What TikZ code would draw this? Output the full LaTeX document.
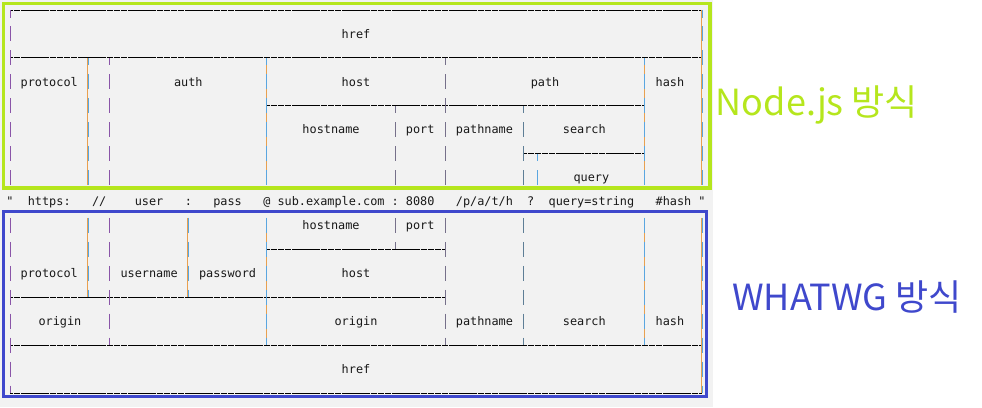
\documentclass[tikz,border=0pt]{standalone}
\usepackage{fontspec}
\usepackage{tikz}
\newfontfamily\monofont{DejaVu Sans Mono}
\newfontfamily\krfont{Noto Sans CJK KR}
\definecolor{panelgray}{HTML}{F2F2F2}
\definecolor{nodegreen}{HTML}{B5E61D}
\definecolor{whatwgblue}{HTML}{3F48CC}
\definecolor{barpurple}{HTML}{8A55A8}
\definecolor{barorange}{HTML}{E8A050}
\definecolor{barblue}{HTML}{5AA6E0}
\definecolor{bargray}{HTML}{76708A}
\definecolor{barslate}{HTML}{5E7E96}
\tikzstyle{lbl} = [font=\monofont\fontsize{11.85}{14}\selectfont, text=black!90, anchor=base, inner sep=0pt, yshift=-4.2pt]
\tikzstyle{hline} = [draw=black, line width=1pt, dash pattern=on 6.534pt off 0.6pt, dash phase=3.267pt]
\tikzstyle{vbar} = [line width=1pt, dash pattern=on 15pt off 8.94pt]
\tikzstyle{barp} = [vbar, draw=barpurple]
\tikzstyle{barg} = [vbar, draw=bargray]
\tikzstyle{bars} = [vbar, draw=barslate]
\tikzstyle{barl} = [vbar, draw=barblue]
\tikzstyle{barob} = [vbar, draw=barblue, preaction={draw=barorange, transform canvas={xshift=-1pt}}]
\tikzstyle{title} = [font=\krfont\fontsize{36}{40}\selectfont, inner sep=0pt]

\begin{document}
\begin{tikzpicture}[x=7.134pt, y=-23.94pt]
  \useasboundingbox (-10pt,10pt) rectangle (972pt,-397pt);
  \fill[panelgray] (-10pt,10pt) rectangle (703pt,-397pt);

  % frames
  \draw[nodegreen, line width=3.3pt] (-6.7pt,6.7pt) rectangle (700pt,-178pt);
  \draw[whatwgblue, line width=3.3pt] (-6.7pt,-201.7pt) rectangle (696.7pt,-386.7pt);

  % horizontal rules
  \foreach \r/\ca/\cb in {0/0/97, 2/0/97, 4/36/89, 6/72/89, 10/36/61, 12/0/61, 14/0/97, 16/0/97}
    \draw[hline] (\ca,\r) -- (\cb,\r);

  % vertical bars, Node.js part
  \foreach \c/\st in {0/barp, 97/barob}
    \draw[\st, dash phase=7.5pt] (\c,0) -- (\c,7.3133);
  \foreach \c/\st in {11/barob, 14/barp, 36/barob, 61/barg, 89/barob}
    \draw[\st, dash phase=7.5pt] (\c,2) -- (\c,7.3133);
  \foreach \c/\st in {54/barg, 72/bars}
    \draw[\st, dash phase=7.5pt] (\c,4) -- (\c,7.3133);
  \draw[barl, dash phase=7.5pt] (74,6) -- (74,7.3133);

  % vertical bars, WHATWG part
  \foreach \c/\e/\st in {0/16/barp, 97/16/barob, 11/12/barob, 14/14/barp, 25/12/barob,
                         36/14/barob, 54/10/barg, 61/14/barg, 72/14/bars, 89/14/barob}
    \draw[\st] (\c,8.6867) -- (\c,\e);

  % Node.js labels
  \node[lbl] (hrefa) at (48.5,1) {href};
  \node[lbl] (protocola) at (5.5,3) {protocol};
  \node[lbl] (autha) at (25,3) {auth};
  \node[lbl] (hosta) at (48.5,3) {host};
  \node[lbl] (patha) at (75,3) {path};
  \node[lbl] (hasha) at (92.5,3) {hash};
  \node[lbl] (hostnamea) at (45,5) {hostname};
  \node[lbl] (porta) at (57.5,5) {port};
  \node[lbl] (pathnamea) at (66.5,5) {pathname};
  \node[lbl] (searcha) at (80.5,5) {search};
  \node[lbl] (querya) at (81.5,7) {query};

  % the url itself
  \node[lbl] (qopen) at (0,8) {"};
  \node[lbl] (scheme) at (5.5,8) {https:};
  \node[lbl] (slashes) at (12.5,8) {//};
  \node[lbl] (user) at (19.5,8) {user};
  \node[lbl] (colona) at (25,8) {:};
  \node[lbl] (pass) at (30.5,8) {pass};
  \node[lbl] (at) at (36,8) {@};
  \node[lbl] (domain) at (45,8) {sub.example.com};
  \node[lbl] (colonb) at (54,8) {:};
  \node[lbl] (portnum) at (57.5,8) {8080};
  \node[lbl] (pathstr) at (66.5,8) {/p/a/t/h};
  \node[lbl] (qmark) at (73,8) {?};
  \node[lbl] (querystr) at (81.5,8) {query=string};
  \node[lbl] (hashstr) at (93,8) {\#hash};
  \node[lbl] (qclose) at (97,8) {"};

  % WHATWG labels
  \node[lbl] (hostnameb) at (45,9) {hostname};
  \node[lbl] (portb) at (57.5,9) {port};
  \node[lbl] (protocolb) at (5.5,11) {protocol};
  \node[lbl] (username) at (19.5,11) {username};
  \node[lbl] (password) at (30.5,11) {password};
  \node[lbl] (hostb) at (48.5,11) {host};
  \node[lbl] (origina) at (7,13) {origin};
  \node[lbl] (originb) at (48.5,13) {origin};
  \node[lbl] (pathnameb) at (66.5,13) {pathname};
  \node[lbl] (searchb) at (80.5,13) {search};
  \node[lbl] (hashb) at (92.5,13) {hash};
  \node[lbl] (hrefb) at (48.5,15) {href};

  % side titles
  \node[title, text=nodegreen] (nodejs) at (807pt,-95pt) {Node.js 방식};
  \node[title, text=whatwgblue] (whatwg) at (837pt,-287pt) {WHATWG 방식};
\end{tikzpicture}
\end{document}
